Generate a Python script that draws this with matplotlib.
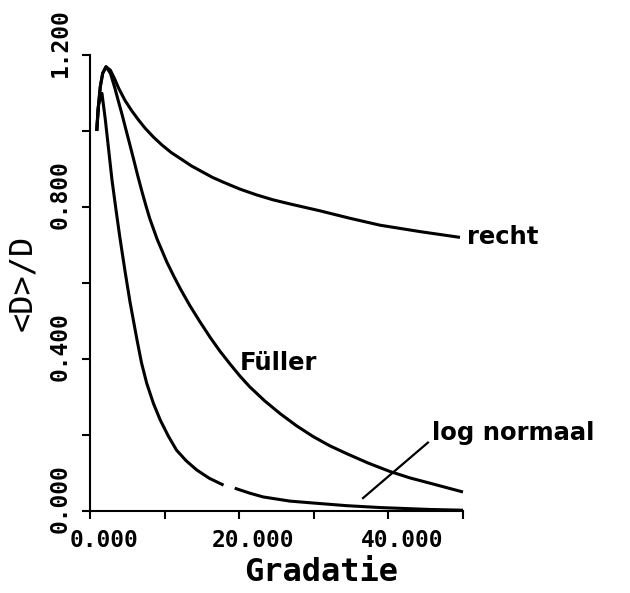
import numpy as np
import matplotlib
matplotlib.use('Agg')
from matplotlib import pyplot as plt
from matplotlib.transforms import ScaledTranslation

# gegevens
recht_x = [0.9, 1.07, 1.38, 1.7, 2.14, 2.73, 3.3, 3.85, 4.7, 5.6, 6.5, 7.4, 8.5, 9.65, 10.9, 12.3,
           13.6, 15.0, 16.4, 17.9, 20.1, 22.3, 24.5, 26.8, 30.8, 34.9, 38.9, 44.3, 49.6]
recht_y = [1.00, 1.055, 1.117, 1.152, 1.169, 1.16, 1.137, 1.112, 1.08, 1.053, 1.029, 1.007, 0.984,
           0.963, 0.943, 0.925, 0.908, 0.893, 0.878, 0.865, 0.847, 0.832, 0.819, 0.808, 0.79, 0.77,
           0.752, 0.735, 0.72]

fuller_x = [0.9, 1.07, 1.38, 1.7, 2.14, 2.73, 3.3, 3.85, 4.3, 4.73, 5.3, 5.85, 6.4, 6.97, 7.5,
            8.0, 9.0, 10.3, 11.2, 12.1, 13.4, 14.7, 16.1, 17.4, 18.8, 20.1, 21.4, 23.4, 25.5,
            27.7, 29.9, 32.1, 34.4, 37.3, 40.2, 42.9, 45.6, 50.0]
fuller_y = [1.00, 1.055, 1.117, 1.152, 1.169, 1.152, 1.115, 1.075, 1.043, 1.01, 0.967, 0.925,
            0.882, 0.84, 0.803, 0.77, 0.715, 0.655, 0.619, 0.585, 0.54, 0.499, 0.457, 0.421, 0.386,
            0.355, 0.327, 0.29, 0.256, 0.224, 0.196, 0.172, 0.151, 0.126, 0.104, 0.087, 0.073,
            0.05]

# NaN = onderbreking in de lijn
lognorm_x = [0.9, 1.16, 1.6, 2.05, 2.5, 2.95, 3.5, 4.0, 4.7, 5.36, 6.3, 6.9, 7.6, 8.5, 9.4,
             10.5, 11.6, 12.9, 14.3, 16.0, 17.9, 18.6, 19.4, 21.4, 23.2, 26.8, 29.9, 34.4, 38.9,
             45.6, 50.0]
lognorm_y = [1.00, 1.07, 1.099, 1.03, 0.95, 0.87, 0.79, 0.72, 0.63, 0.55, 0.45, 0.39, 0.336,
             0.283, 0.24, 0.197, 0.16, 0.132, 0.108, 0.086, 0.068, np.nan, 0.06, 0.047, 0.037,
             0.026, 0.021, 0.014, 0.009, 0.004, 0.002]

labels = ['recht', 'Füller', 'log normaal']
label_pos = [(50.5, 0.72), (20.1, 0.39), (45.8, 0.205)]
pijl = [(36.6, 0.034), (45.3, 0.18)]

xticks = [0, 20, 40]
xticklabels = ['0.000', '20.000', '40.000']
xminor = [10, 30, 50]
yticks = [0.0, 0.4, 0.8, 1.2]
yticklabels = ['0.000', '0.400', '0.800', '1.200']
yminor = [0.2, 0.6, 1.0]

fig = plt.figure(figsize=(6.3, 5.93), dpi=100)
ax = fig.add_axes([0.1429, 0.1383, 0.592, 0.769])

lw = 2.2
for xs, ys in [(recht_x, recht_y), (fuller_x, fuller_y), (lognorm_x, lognorm_y)]:
    ax.plot(xs, ys, color='black', lw=lw, solid_capstyle='butt',
            solid_joinstyle='round', clip_on=False)

# verwijslijn voor log normaal
ax.plot([pijl[0][0], pijl[1][0]], [pijl[0][1], pijl[1][1]], color='black', lw=1.6)

for tekst, (tx, ty) in zip(labels, label_pos):
    ax.text(tx, ty, tekst, fontsize=17.5, fontweight='bold', family='DejaVu Sans',
            ha='left', va='center')

ax.set_xlim(0, 50)
ax.set_ylim(0, 1.2)

for s in ['top', 'right']:
    ax.spines[s].set_visible(False)
for s in ['left', 'bottom']:
    ax.spines[s].set_linewidth(1.5)

ax.set_xticks(xticks)
ax.set_xticks(xminor, minor=True)
ax.set_xticklabels(xticklabels, family='DejaVu Sans Mono', fontsize=16.5, fontweight='bold')
ax.set_yticks(yticks)
ax.set_yticks(yminor, minor=True)
ax.set_yticklabels(yticklabels, family='DejaVu Sans Mono', fontsize=16.5, fontweight='bold',
                   rotation=90, va='center')

ax.tick_params(which='both', direction='out', length=6, width=1.5, color='black')
ax.tick_params(axis='x', which='major', pad=7)
ax.tick_params(axis='y', which='major', pad=7)

# labels iets verschoven zoals in het origineel
for lab in ax.get_xticklabels():
    lab.set_transform(lab.get_transform() + ScaledTranslation(0.14, 0, fig.dpi_scale_trans))
for lab in ax.get_yticklabels():
    lab.set_transform(lab.get_transform() + ScaledTranslation(0, 0.12, fig.dpi_scale_trans))

ax.set_xlabel('Gradatie', family='DejaVu Sans Mono', fontsize=23, fontweight='bold')
ax.xaxis.set_label_coords(0.62, -0.1)
ax.set_ylabel('<D>/D', family='DejaVu Sans Mono', fontsize=23)
ax.yaxis.set_label_coords(-0.14, 0.5)

fig.savefig('out.png', dpi=100)
plt.close(fig)
